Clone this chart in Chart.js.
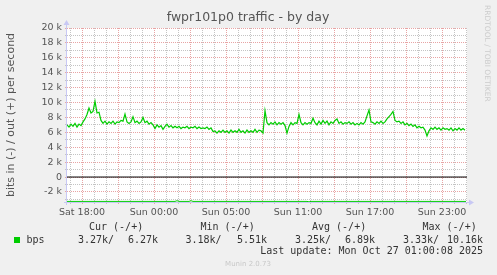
<!DOCTYPE html>
<html>
<head>
<meta charset="utf-8">
<title>fwpr101p0 traffic - by day</title>
<script src="https://cdn.jsdelivr.net/npm/chart.js@4.4.1/dist/chart.umd.min.js"></script>
<style>
  html, body { margin: 0; padding: 0; background: #f0f0f0; overflow: hidden; }
  #chart { display: block; }
</style>
</head>
<body>
<canvas id="chart" width="497" height="275"></canvas>
<script>
// Time axis: minutes since Sat 16:45, one sample every 10 minutes
const sampleMinutes = 10;

// out (+) bits per second, in k
const outValues = [
    7.0, 6.7, 7.1, 6.8, 7.2, 6.7, 7.1, 6.9, 7.4, 7.8,
    8.4, 9.25, 8.6, 8.8, 10.16, 8.6, 8.7, 7.6, 7.2, 7.5,
    7.1, 7.4, 7.2, 7.5, 7.1, 7.4, 7.3, 7.6, 7.5, 8.45,
    7.4, 7.2, 7.4, 8.1, 7.3, 7.5, 7.2, 7.4, 8.0, 7.3,
    7.5, 7.1, 7.3, 7.0, 6.5, 7.0, 6.7, 6.9, 6.4, 6.8,
    7.1, 6.7, 6.9, 6.6, 6.8, 6.6, 6.8, 6.5, 6.7, 6.6,
    6.8, 6.5, 6.7, 6.6, 6.8, 6.5, 6.7, 6.5, 6.6, 6.5,
    6.7, 6.4, 6.6, 6.1, 6.2, 5.9, 6.2, 6.0, 6.3, 6.0,
    6.2, 5.9, 6.3, 6.0, 6.2, 6.0, 6.4, 6.0, 6.2, 5.9,
    6.3, 6.0, 6.2, 6.0, 6.4, 6.0, 6.3, 6.2, 5.9, 8.9,
    7.3, 7.0, 7.3, 7.1, 7.4, 7.0, 7.3, 7.1, 7.3, 6.9,
    5.9, 6.8, 7.3, 7.0, 7.3, 7.2, 8.4, 7.3, 7.0, 7.3,
    7.1, 7.3, 7.2, 7.9, 7.3, 7.0, 7.5, 7.1, 7.6, 7.2,
    7.5, 7.0, 7.4, 7.2, 7.6, 7.8, 7.2, 7.4, 7.1, 7.3,
    7.2, 7.4, 7.1, 7.3, 7.0, 7.2, 7.0, 7.3, 7.1, 7.4,
    8.2, 9.0, 7.4, 7.3, 7.1, 7.4, 7.2, 7.5, 7.2, 7.4,
    7.8, 8.1, 8.4, 8.8, 7.6, 7.4, 7.5, 7.2, 7.4, 7.0,
    7.2, 6.9, 7.1, 6.8, 7.0, 6.6, 6.8, 6.6, 6.7, 6.3,
    5.51, 6.2, 6.6, 6.4, 6.7, 6.4, 6.6, 6.3, 6.6, 6.4,
    6.5, 6.3, 6.6, 6.2, 6.5, 6.3, 6.6, 6.3, 6.5, 6.27
];

// in (-) bits per second, in k (drawn negative)
const inMinutes = [0, 540, 550, 560, 610, 620, 630, 1200, 1210, 1220, 1995];
const inValues = [3.27, 3.27, 3.18, 3.27, 3.27, 3.18, 3.27, 3.27, 3.33, 3.27, 3.27];

// Axes
const xMax = 2000;
const yMin = -3.35;
const yMax = 20;
const tickMinutes = [75, 435, 795, 1155, 1515, 1875];
const tickLabels = ['Sat 18:00', 'Sun 00:00', 'Sun 05:00', 'Sun 11:00', 'Sun 17:00', 'Sun 23:00'];

// Legend
const legendStats = [
    { head: 'Cur (-/+)', inText: '3.27k/', outText: '6.27k' },
    { head: 'Min (-/+)', inText: '3.18k/', outText: '5.51k' },
    { head: 'Avg (-/+)', inText: '3.25k/', outText: '6.89k' },
    { head: 'Max (-/+)', inText: '3.33k/', outText: '10.16k' }
];

const GREEN = '#00cc00';
const AXIS = '#c8c8f4';
const SANS = '"DejaVu Sans", sans-serif';
const MONO = '"DejaVu Sans Mono", monospace';

const outData = outValues.map((v, i) => ({ x: i * sampleMinutes, y: v }));
const inData = inValues.map((v, i) => ({ x: inMinutes[i], y: -v }));
const zeroData = [{ x: 0, y: 0 }, { x: xMax, y: 0 }];

/**
 * Munin-style decorations: canvas, axes with arrows, texts and legend
 */
const muninDecor = {
    id: 'muninDecor',
    beforeDraw(chart) {
        const { ctx, chartArea: a } = chart;
        ctx.save();
        ctx.fillStyle = '#ffffff';
        ctx.fillRect(a.left, a.top, a.right - a.left, a.bottom - a.top);
        ctx.restore();
    },
    beforeDatasetsDraw(chart) {
        const { ctx, chartArea: a } = chart;
        ctx.save();
        ctx.strokeStyle = AXIS;
        ctx.fillStyle = AXIS;
        ctx.lineWidth = 1;
        // y axis
        ctx.beginPath();
        ctx.moveTo(a.left - 0.5, a.bottom + 3);
        ctx.lineTo(a.left - 0.5, a.top - 4);
        ctx.stroke();
        ctx.beginPath();
        ctx.moveTo(a.left - 3.5, a.top - 3);
        ctx.lineTo(a.left + 2.5, a.top - 3);
        ctx.lineTo(a.left - 0.5, a.top - 8);
        ctx.closePath();
        ctx.fill();
        // x axis
        ctx.beginPath();
        ctx.moveTo(a.left - 3, a.bottom + 0.5);
        ctx.lineTo(a.right + 3, a.bottom + 0.5);
        ctx.stroke();
        ctx.beginPath();
        ctx.moveTo(a.right + 2, a.bottom - 2.5);
        ctx.lineTo(a.right + 2, a.bottom + 3.5);
        ctx.lineTo(a.right + 7, a.bottom + 0.5);
        ctx.closePath();
        ctx.fill();
        ctx.restore();
    },
    afterDraw(chart) {
        const { ctx, chartArea: a } = chart;
        ctx.save();

        // title
        ctx.fillStyle = '#555555';
        ctx.font = '12.5px ' + SANS;
        ctx.textAlign = 'center';
        ctx.textBaseline = 'middle';
        ctx.fillText('fwpr101p0 traffic - by day', 248, 18);

        // vertical axis title
        ctx.save();
        ctx.translate(11, (a.top + a.bottom) / 2);
        ctx.rotate(-Math.PI / 2);
        ctx.font = '11px ' + SANS;
        ctx.fillText('bits in (-) / out (+) per second', 0, 0);
        ctx.restore();

        // rrdtool credit
        ctx.save();
        ctx.translate(487, 5);
        ctx.rotate(Math.PI / 2);
        ctx.fillStyle = '#cccccc';
        ctx.font = '7.5px ' + SANS;
        ctx.textAlign = 'left';
        ctx.fillText('RRDTOOL / TOBI OETIKER', 0, 0);
        ctx.restore();

        // legend
        ctx.fillStyle = '#333333';
        ctx.font = '10px ' + MONO;
        const colStart = [78, 185.5, 295, 403];
        const colEnd = [158, 267, 375, 483];
        const headStart = [89, 200.5, 312, 422.5];
        legendStats.forEach((s, i) => {
            ctx.textAlign = 'left';
            ctx.fillText(s.head, headStart[i], 227.5);
            ctx.fillText(s.inText, colStart[i], 240);
            ctx.textAlign = 'right';
            ctx.fillText(s.outText, colEnd[i], 240);
        });
        ctx.textAlign = 'left';
        ctx.fillText('bps', 26.5, 240);
        ctx.fillStyle = GREEN;
        ctx.fillRect(14, 237, 6, 6);

        ctx.fillStyle = '#333333';
        ctx.textAlign = 'right';
        ctx.fillText('Last update: Mon Oct 27 01:00:08 2025', 483, 251.5);

        // footer
        ctx.fillStyle = '#c8c8c8';
        ctx.font = '7px ' + SANS;
        ctx.textAlign = 'center';
        ctx.fillText('Munin 2.0.73', 248, 264.5);

        ctx.restore();
    }
};

const minorGrid = '#c4c4c4';
const majorGrid = '#e8a4a4';

new Chart(document.getElementById('chart'), {
    type: 'line',
    data: {
        datasets: [
            {
                label: 'zero',
                data: zeroData,
                borderColor: '#000000',
                borderWidth: 1
            },
            {
                label: 'bps in',
                data: inData,
                borderColor: GREEN,
                borderWidth: 1
            },
            {
                label: 'bps out',
                data: outData,
                borderColor: GREEN,
                borderWidth: 1.2
            }
        ]
    },
    plugins: [muninDecor],
    options: {
        responsive: false,
        animation: false,
        devicePixelRatio: 1,
        layout: { padding: { left: 0, top: 28, right: 30, bottom: 0 } },
        elements: {
            point: { radius: 0 },
            line: { tension: 0, borderJoinStyle: 'miter' }
        },
        plugins: {
            legend: { display: false },
            title: { display: false },
            tooltip: { enabled: false }
        },
        scales: {
            x: {
                type: 'linear',
                min: 0,
                max: xMax,
                afterFit: (scale) => { scale.height = 73; },
                afterBuildTicks: (scale) => {
                    const ticks = [];
                    for (let m = 15; m < xMax; m += 60) ticks.push({ value: m });
                    scale.ticks = ticks;
                },
                grid: {
                    color: (ctx) => ((ctx.tick.value - 75) % 180 === 0 ? majorGrid : minorGrid),
                    lineWidth: 1,
                    drawTicks: true,
                    tickLength: 2
                },
                border: { display: false, dash: [1, 1] },
                ticks: {
                    autoSkip: false,
                    maxRotation: 0,
                    padding: 3,
                    color: '#555555',
                    font: { family: SANS, size: 9.5 },
                    callback: (value) => {
                        const i = tickMinutes.indexOf(value);
                        return i >= 0 ? tickLabels[i] : '';
                    }
                }
            },
            y: {
                type: 'linear',
                min: yMin,
                max: yMax,
                afterFit: (scale) => { scale.width = 67; },
                afterBuildTicks: (scale) => {
                    const ticks = [];
                    for (let v = -3; v <= yMax; v += 1) ticks.push({ value: v });
                    scale.ticks = ticks;
                },
                grid: {
                    color: (ctx) => (ctx.tick.value % 2 === 0 ? majorGrid : minorGrid),
                    lineWidth: 1,
                    drawTicks: true,
                    tickLength: 2
                },
                border: { display: false, dash: [1, 1] },
                ticks: {
                    autoSkip: false,
                    padding: 3,
                    color: '#555555',
                    font: { family: SANS, size: 9.5 },
                    callback: (value) => {
                        if (value % 2 !== 0) return '';
                        return value === 0 ? '0' : value + ' k';
                    }
                }
            }
        }
    }
});
</script>
</body>
</html>
